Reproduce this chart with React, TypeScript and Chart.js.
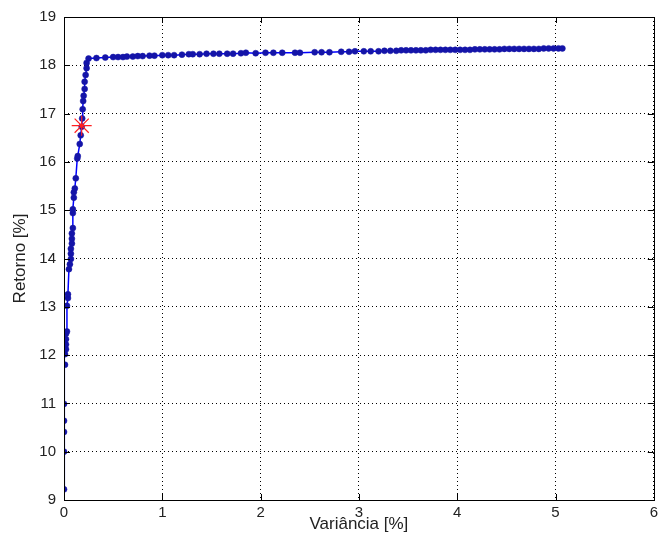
import { useEffect, useRef } from 'react';
import { Chart, registerables } from 'chart.js';

Chart.register(...registerables);

const variancia: number[] = [
  0.0, 0.0, 0.0, 0.0, 0.0, 0.01, 0.01, 0.02, 0.02, 0.02, 0.02, 0.03, 0.03, 0.04, 0.04,
  0.05, 0.06, 0.07, 0.07, 0.07, 0.08, 0.08, 0.08, 0.09, 0.09, 0.09, 0.1, 0.1,
  0.11, 0.12, 0.135, 0.14, 0.16, 0.17, 0.18, 0.185, 0.19, 0.195, 0.2, 0.21, 0.21, 0.22, 0.23, 0.23,
  0.25, 0.33, 0.42, 0.5, 0.55, 0.6, 0.64, 0.7, 0.75, 0.8, 0.87, 0.92, 1.0, 1.06, 1.12, 1.2,
  1.27, 1.31, 1.38, 1.45, 1.52, 1.58, 1.66, 1.72, 1.8, 1.85, 1.95, 2.05, 2.13, 2.22, 2.35,
  2.4, 2.55, 2.62, 2.7, 2.82, 2.9, 2.96, 3.05, 3.12, 3.2, 3.26, 3.32, 3.38, 3.43, 3.48,
  3.53, 3.58, 3.63, 3.68, 3.73, 3.78, 3.83, 3.88, 3.93, 3.98, 4.03, 4.08, 4.13, 4.18, 4.23,
  4.28, 4.33, 4.38, 4.43, 4.48, 4.53, 4.58, 4.63, 4.68, 4.73, 4.78, 4.83, 4.88, 4.93, 4.98,
  5.03, 5.07,
];

const retorno: number[] = [
  9.22, 10.0, 10.41, 10.64, 10.99, 11.8, 12.02, 12.12, 12.22, 12.33, 12.44, 12.49, 13.02, 13.18, 13.26,
  13.78, 13.88, 13.99, 14.1, 14.2, 14.31, 14.41, 14.52, 14.63, 14.94, 15.02, 15.26, 15.37,
  15.45, 15.66, 16.07, 16.12, 16.37, 16.55, 16.73, 16.9, 17.09, 17.26, 17.37, 17.51, 17.66, 17.8, 17.94, 18.05,
  18.14, 18.15, 18.16, 18.17, 18.17, 18.17, 18.18, 18.18, 18.19, 18.19, 18.2, 18.2, 18.21, 18.21, 18.21, 18.22,
  18.23, 18.23, 18.23, 18.24, 18.24, 18.24, 18.24, 18.24, 18.25, 18.26, 18.25, 18.26, 18.26, 18.26, 18.26,
  18.26, 18.27, 18.27, 18.27, 18.28, 18.28, 18.29, 18.29, 18.29, 18.29, 18.3, 18.3, 18.3, 18.31, 18.31,
  18.31, 18.31, 18.31, 18.31, 18.32, 18.32, 18.32, 18.32, 18.32, 18.32, 18.32, 18.32, 18.32, 18.33, 18.33,
  18.33, 18.33, 18.33, 18.33, 18.34, 18.34, 18.34, 18.34, 18.34, 18.34, 18.34, 18.34, 18.35, 18.35, 18.35,
  18.35, 18.35,
];

const destaqueX: number[] = [0.18];
const destaqueY: number[] = [16.75];

const xTicks: number[] = [0, 1, 2, 3, 4, 5, 6];
const yTicks: number[] = [9, 10, 11, 12, 13, 14, 15, 16, 17, 18, 19];

const boxPlugin = {
  id: 'matlabBox',
  beforeDraw(chart: any) {
    const { ctx, width, height } = chart;
    ctx.save();
    ctx.fillStyle = '#ffffff';
    ctx.fillRect(0, 0, width, height);
    ctx.restore();
  },
  afterDraw(chart: any) {
    const { ctx, chartArea } = chart;
    const { left, right, top, bottom } = chartArea;
    const xs = chart.scales.x;
    const ys = chart.scales.y;
    ctx.save();
    ctx.strokeStyle = '#000';
    ctx.lineWidth = 1;
    ctx.setLineDash([]);
    ctx.strokeRect(Math.round(left) + 0.5, Math.round(top) + 0.5, Math.round(right - left), Math.round(bottom - top));
    ctx.beginPath();
    const t = 6;
    xTicks.forEach((v) => {
      const px = Math.round(xs.getPixelForValue(v)) + 0.5;
      ctx.moveTo(px, bottom);
      ctx.lineTo(px, bottom - t);
      ctx.moveTo(px, top);
      ctx.lineTo(px, top + t);
    });
    yTicks.forEach((v) => {
      const py = Math.round(ys.getPixelForValue(v)) + 0.5;
      ctx.moveTo(left, py);
      ctx.lineTo(left + t, py);
      ctx.moveTo(right, py);
      ctx.lineTo(right - t, py);
    });
    ctx.stroke();
    ctx.restore();
  },
};

export default function App() {
  const ref = useRef<HTMLCanvasElement | null>(null);

  useEffect(() => {
    document.body.style.margin = '0';
    if (!ref.current) return;
    const curve = variancia.map((x, i) => ({ x, y: retorno[i] }));
    const star = destaqueX.map((x, i) => ({ x, y: destaqueY[i] }));
    const font = { family: '"Liberation Sans", Arial, sans-serif', size: 15 };
    const chart = new Chart(ref.current, {
      type: 'scatter',
      data: {
        datasets: [
          {
            label: 'ponto',
            data: star,
            pointStyle: 'star',
            pointRadius: 10,
            pointBorderColor: '#ff2020',
            pointBackgroundColor: '#ff2020',
            pointBorderWidth: 1.2,
            showLine: false,
          },
          {
            label: 'fronteira',
            data: curve,
            showLine: true,
            borderColor: '#0000ff',
            borderWidth: 1.5,
            pointStyle: 'circle',
            pointRadius: 3,
            pointBackgroundColor: '#1414a8',
            pointBorderColor: '#1414a8',
            pointBorderWidth: 0.5,
          },
        ],
      },
      options: {
        responsive: false,
        animation: false,
        events: [],
        layout: { padding: { top: 16, right: 8, left: 0, bottom: 0 } },
        plugins: { legend: { display: false }, tooltip: { enabled: false } },
        scales: {
          x: {
            type: 'linear',
            min: 0,
            max: 6,
            afterFit: (s: any) => { s.height = 35; },
            afterBuildTicks: (s: any) => { s.ticks = xTicks.map((v) => ({ value: v })); },
            ticks: { font, color: '#222', padding: 4, maxRotation: 0 },
            grid: { color: '#000', lineWidth: 1, drawTicks: false },
            border: { display: false, dash: [1, 3] },
            title: {
              display: true,
              text: 'Variância [%]',
              font: { family: '"Liberation Sans", Arial, sans-serif', size: 17 },
              color: '#222',
              padding: { top: 0, bottom: 0 },
            },
          },
          y: {
            type: 'linear',
            min: 9,
            max: 19,
            afterFit: (s: any) => { s.width = 64; },
            afterBuildTicks: (s: any) => { s.ticks = yTicks.map((v) => ({ value: v })); },
            ticks: { font, color: '#222', padding: 8 },
            grid: { color: '#000', lineWidth: 1, drawTicks: false },
            border: { display: false, dash: [1, 3] },
            title: {
              display: true,
              text: 'Retorno [%]',
              font: { family: '"Liberation Sans", Arial, sans-serif', size: 17 },
              color: '#222',
              padding: { top: 10, bottom: 0 },
            },
          },
        },
      },
      plugins: [boxPlugin],
    });
    return () => chart.destroy();
  }, []);

  return (
    <div style={{ position: 'absolute', left: 0, top: 0, width: 665, height: 535 }}>
      <canvas ref={ref} width={665} height={535} />
    </div>
  );
}
